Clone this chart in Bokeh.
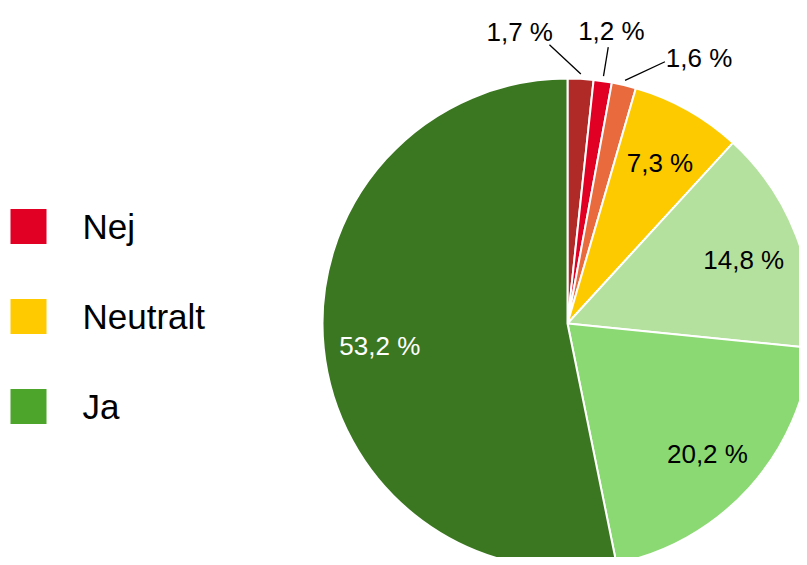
import numpy as np
from bokeh.plotting import figure
from bokeh.models import Range1d
from bokeh.core.properties import value
from bokeh.embed import file_html
from bokeh.resources import INLINE

# Data (clockwise from 12 o'clock)
shares = [1.7, 1.2, 1.6, 7.3, 14.8, 20.2, 53.2]
labels = ["1,7 %", "1,2 %", "1,6 %", "7,3 %", "14,8 %", "20,2 %", "53,2 %"]
colors = ["#B02A27", "#E10024", "#E96A3D", "#FDCA00", "#B5E19F", "#8AD972", "#3B7720"]
label_colors = ["black", "black", "black", "black", "black", "black", "white"]
outside = [True, True, True, False, False, False, False]
outside_shift_deg = [-12.3, 0.2, 12.9, 0, 0, 0, 0]

legend_labels = ["Nej", "Neutralt", "Ja"]
legend_colors = ["#E10024", "#FFCB00", "#4DA62B"]

W, H = 799, 557
p = figure(width=W, height=H, output_backend="svg", toolbar_location=None,
           x_range=Range1d(0, W), y_range=Range1d(8, 8 + H), min_border=0)
p.axis.visible = False
p.grid.visible = False
p.outline_line_color = None
p.background_fill_color = "white"

cx, cy, R = 567, 242, 245

s = np.array(shares) / 100.0
cum_after = np.cumsum(s)
cum_before = cum_after - s
start = np.pi / 2 - cum_after * 2 * np.pi
end = np.pi / 2 - cum_before * 2 * np.pi
p.wedge(x=cx, y=cy, radius=R, start_angle=start, end_angle=end,
        fill_color=colors, line_color="white", line_width=2)

mid = (start + end) / 2
font = value("Liberation Sans")

# inside labels
in_idx = [i for i in range(len(shares)) if not outside[i]]
in_r = R * 0.77
p.text(x=[cx + in_r * np.cos(mid[i]) for i in in_idx],
       y=[cy - 4 + in_r * np.sin(mid[i]) for i in in_idx],
       text=[labels[i] for i in in_idx],
       text_color=[label_colors[i] for i in in_idx],
       text_font=font, text_font_size="26px",
       text_align="center", text_baseline="middle")

# outside labels with leader lines
for i in range(len(shares)):
    if not outside[i]:
        continue
    sh = np.deg2rad(outside_shift_deg[i])
    a0 = mid[i]
    a1 = mid[i] - sh * 0.55
    a2 = mid[i] - sh
    p.line([cx + R * 1.02 * np.cos(a0), cx + R * 1.14 * np.cos(a1)],
           [cy + R * 1.02 * np.sin(a0), cy + R * 1.14 * np.sin(a1)],
           line_color="black", line_width=1.3)
    p.text(x=[cx + R * 1.215 * np.cos(a2)], y=[cy - 2 + R * 1.215 * np.sin(a2)],
           text=[labels[i]], text_color="black", text_font=font,
           text_font_size="26px", text_align="center", text_baseline="middle")

# legend
n = len(legend_labels)
ly = [565 - (226 + 90 * k) for k in range(n)]
p.rect(x=[28] * n, y=ly, width=36, height=35, fill_color=legend_colors,
       line_color=None)
p.text(x=[82] * n, y=ly, text=legend_labels,
       text_color="black", text_font=font, text_font_size="35px",
       text_align="left", text_baseline="middle")

open("out.html", "w").write(file_html(p, INLINE))
